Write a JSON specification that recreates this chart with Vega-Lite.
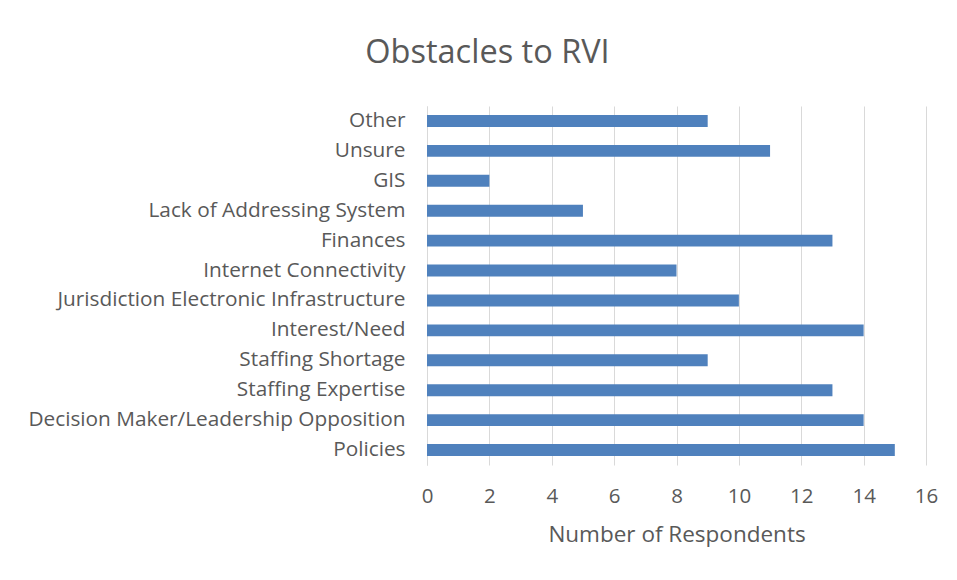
{
  "$schema": "https://vega.github.io/schema/vega-lite/v6.json",
  "width": 499,
  "height": 359,
  "autosize": {"type": "none"},
  "padding": {"left": 427, "top": 106, "right": 31, "bottom": 115},
  "background": "white",
  "title": {
    "text": "Obstacles to RVI",
    "font": "Open Sans",
    "fontSize": 32.5,
    "fontWeight": "normal",
    "color": "#595959",
    "anchor": "middle",
    "dx": -189,
    "offset": 37
  },
  "data": {
    "values": [
      {"obstacle": "Other", "count": 9},
      {"obstacle": "Unsure", "count": 11},
      {"obstacle": "GIS", "count": 2},
      {"obstacle": "Lack of Addressing System", "count": 5},
      {"obstacle": "Finances", "count": 13},
      {"obstacle": "Internet Connectivity", "count": 8},
      {"obstacle": "Jurisdiction Electronic Infrastructure", "count": 10},
      {"obstacle": "Interest/Need", "count": 14},
      {"obstacle": "Staffing Shortage", "count": 9},
      {"obstacle": "Staffing Expertise", "count": 13},
      {"obstacle": "Decision Maker/Leadership Opposition", "count": 14},
      {"obstacle": "Policies", "count": 15}
    ]
  },
  "mark": {"type": "bar", "color": "#4F81BD"},
  "encoding": {
    "y": {
      "field": "obstacle",
      "type": "nominal",
      "sort": null,
      "scale": {"paddingInner": 0.6, "paddingOuter": 0.3},
      "axis": {
        "title": null,
        "ticks": false,
        "domain": true,
        "domainColor": "#d9d9d9",
        "labelFont": "Open Sans",
        "labelFontSize": 20.8,
        "labelColor": "#595959",
        "labelPadding": 22,
        "labelLimit": 500
      }
    },
    "x": {
      "field": "count",
      "type": "quantitative",
      "scale": {"domain": [0, 16], "nice": false},
      "axis": {
        "title": "Number of Respondents",
        "values": [0, 2, 4, 6, 8, 10, 12, 14, 16],
        "grid": true,
        "gridColor": "#d9d9d9",
        "domain": false,
        "ticks": false,
        "labelFlush": false,
        "labelFont": "Open Sans",
        "labelFontSize": 20.5,
        "labelColor": "#595959",
        "labelPadding": 21,
        "titleFont": "Open Sans",
        "titleFontSize": 22.5,
        "titleFontWeight": "normal",
        "titleColor": "#595959",
        "titlePadding": 17
      }
    }
  },
  "config": {"view": {"stroke": null}}
}
